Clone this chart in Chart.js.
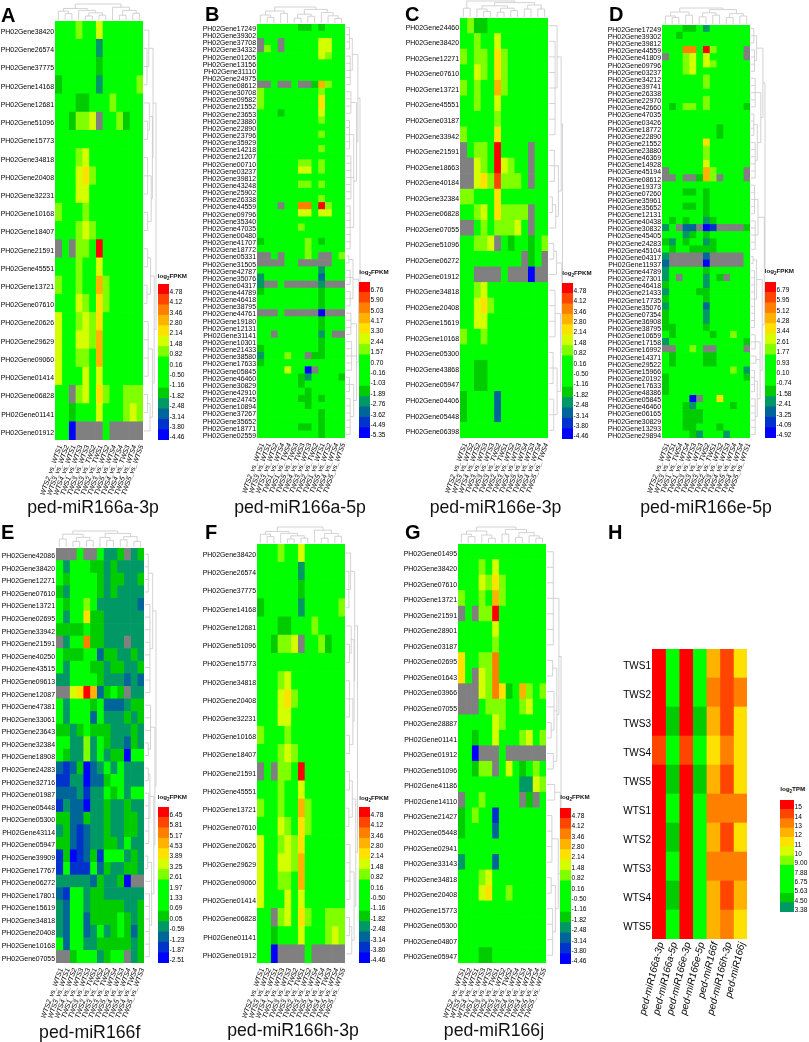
<!DOCTYPE html>
<html>
<head>
<meta charset="utf-8">
<title>ped-miR166 heatmaps</title>
<script src="https://cdn.jsdelivr.net/npm/chart.js@4"></script>
<style>
  html, body { margin: 0; background: #fff; }
  #page { position: relative; width: 809px; height: 1042px; overflow: hidden; font-family: "Liberation Sans", Arial, sans-serif; color: #111; }
  #page canvas { position: absolute; }
  .letter { position: absolute; font-weight: bold; font-size: 20px; line-height: 20px; color: #000; }
  .title { position: absolute; font-size: 17.7px; line-height: 20px; transform: translateX(-50%); white-space: nowrap; }
  .barhead { position: absolute; font-weight: bold; font-size: 6.2px; line-height: 8px; white-space: nowrap; }
  .barhead sub { font-size: 4.5px; line-height: 0; }
</style>
</head>
<body>
<div id="page"></div>
<script>
// gray cells have no value
const G = null;

const genesA = ['38420','26574','37775','14168','12681','51096','15773','34818','20408','32231','10168','18407','21591','45551','13721','07610','20626','29629','09060','01414','06828','01141','01912'];
const genesB = ['17249','39302','37708','34332','01205','13156','31110','24975','08612','30708','09582','21552','23653','23880','22890','23796','35929','14218','21207','00710','03237','39812','43248','25902','26338','44559','09796','35340','47035','00480','41707','18772','05331','31505','42787','35076','04317','44789','46418','38795','44761','19180','12131','31141','10301','21433','38580','17633','05845','46460','30829','42910','24745','10894','37267','35652','18771','02559'];
const genesC = ['24460','38420','12271','07610','13721','45551','03187','33942','21591','18663','40184','32384','06828','07055','51096','06272','01912','34818','20408','15619','10168','05300','43868','05947','04406','05448','06398'];
const genesD = ['17249','39302','39812','44559','41809','09796','03237','34212','39741','26338','22970','42660','47035','03426','18772','22890','21552','23880','46369','14928','45194','08612','19373','07260','35961','35652','12131','40438','30832','45405','24283','45104','04317','11937','44789','27301','46418','21433','17735','35076','07354','36908','38795','10659','17158','16992','14371','29522','15966','20192','17633','48386','05845','46460','06165','30829','13293','29894'];
const genesE = ['42086','38420','12271','07610','13721','02695','33942','21591','40250','43515','09613','12087','47381','33061','23643','32384','18908','24283','32716','01987','05448','05300','43114','05947','39909','17767','06272','17801','15619','34818','20408','10168','07055'];
const genesF = genesA;
const genesG = ['01495','38420','07610','13721','21591','28901','03187','02695','01643','03966','07055','28887','01141','01912','51096','41186','14110','21427','05448','02941','33143','34818','20408','15773','05300','04807','05947'];
const samplesH = ['TWS1','TWS2','TWS3','TWS4','TWS5','WTS1','WTS2','WTS3','WTS4','WTS5'];

const colsA = ['WTS2_vs_WTS1','WTS3_vs_WTS2','WTS4_vs_WTS1','TWS1_vs_WTS3','TWS3_vs_WTS3','TWS3_vs_TWS2','TWS2_vs_TWS1','TWS3_vs_WTS2','TWS5_vs_WTS4','TWS4_vs_WTS4','TWS4_vs_TWS3','TWS5_vs_WTS4','TWS5_vs_WTS5'];
const colsB = ['WTS2_vs_WTS1','WTS3_vs_WTS1','WTS3_vs_WTS2','TWS1_vs_WTS4','TWS1_vs_TWS4','TWS5_vs_TWS3','TWS4_vs_TWS3','TWS3_vs_WTS3','TWS2_vs_TWS2','TWS1_vs_WTS1','TWS5_vs_WTS2','TWS4_vs_WTS4','TWS5_vs_WTS5'];
const colsC = ['WTS2_vs_WTS1','WTS3_vs_WTS2','WTS4_vs_WTS2','TWS3_vs_WTS3','TWS3_vs_WTS3','TWS3_vs_TWS2','TWS2_vs_TWS1','TWS3_vs_WTS2','TWS4_vs_WTS3','TWS5_vs_WTS4','TWS5_vs_WTS3','TWS4_vs_WTS4','TWS5_vs_TWS4'];
const colsD = ['WTS2_vs_WTS1','WTS3_vs_WTS1','TWS1_vs_TWS4','TWS1_vs_WTS4','TWS3_vs_WTS3','TWS3_vs_WTS3','TWS3_vs_TWS2','TWS2_vs_TWS1','TWS3_vs_WTS2','TWS4_vs_WTS3','TWS5_vs_WTS4','TWS4_vs_WTS4','TWS5_vs_WTS1'];
const colsE = ['WTS2_vs_WTS1','WTS3_vs_WTS1','WTS4_vs_WTS2','TWS1_vs_WTS3','TWS3_vs_WTS3','TWS2_vs_TWS1','TWS3_vs_TWS2','TWS3_vs_TWS2','TWS5_vs_WTS4','TWS4_vs_WTS3','TWS5_vs_WTS4','TWS4_vs_TWS4','TWS5_vs_WTS3'];
const colsF = colsA;
const colsG = ['WTS2_vs_WTS1','WTS3_vs_WTS2','WTS4_vs_WTS1','TWS1_vs_WTS3','TWS3_vs_WTS3','TWS2_vs_TWS1','TWS3_vs_WTS2','TWS3_vs_TWS2','TWS4_vs_WTS4','TWS5_vs_WTS3','TWS4_vs_WTS4','TWS5_vs_WTS4','TWS5_vs_WTS5'];
const colsH = ['ped-miR166a-3p','ped-miR166a-5p','ped-miR166e-3p','ped-miR166e-5p','ped-miR166f','ped-miR166h-3p','ped-miR166j'];

// cell values as colour-bar steps: 0 = the green band, + towards red, - towards blue
const rowsA = [
[0,0,0,1,0,0,2,0,0,0,0,0,0],
[0,0,0,0,0,0,-2,0,0,0,0,0,0],
[0,0,0,0,0,0,-1,0,0,0,0,0,0],
[-1,0,0,0,0,0,-2,0,0,0,0,0,1],
[0,0,0,-1,-1,0,0,0,1,0,0,0,0],
[0,0,-1,1,1,2,G,0,0,1,-1,0,0],
[0,0,0,0,0,0,0,0,0,0,0,0,0],
[0,0,0,1,2,0,0,0,0,0,0,0,0],
[0,0,0,2,3,1,0,0,0,0,0,0,0],
[0,0,0,2,2,0,0,0,0,0,0,0,0],
[1,0,0,0,1,0,0,0,0,0,0,0,0],
[0,0,0,1,2,1,0,0,0,0,0,0,0],
[G,0,G,1,1,0,7,0,0,0,0,0,0],
[0,0,0,1,0,0,2,0,0,0,0,0,0],
[1,0,0,1,0,0,4,1,0,0,0,0,0],
[0,0,0,2,1,0,3,1,0,0,0,0,0],
[2,0,0,1,2,1,3,0,0,0,0,0,0],
[2,0,0,2,2,1,4,0,0,0,0,0,0],
[2,0,0,1,1,0,4,0,0,0,0,0,0],
[2,0,0,0,2,0,2,0,0,0,0,0,0],
[0,0,G,1,2,0,3,1,0,0,1,1,1],
[0,0,-1,0,0,0,2,0,0,0,1,2,1],
[0,0,-5,G,G,G,G,0,G,G,G,G,G]
];
const rowsB = [
[0,0,0,0,0,0,-1,-1,0,-1,0,0,0],
[0,0,0,0,0,0,0,0,0,0,0,0,0],
[G,0,0,G,0,0,0,0,0,2,2,0,0],
[G,1,0,G,0,0,0,0,0,2,2,0,0],
[0,0,0,0,0,0,0,0,0,2,1,0,0],
[0,0,0,0,0,0,0,0,0,0,0,0,0],
[0,0,0,0,0,0,0,0,0,0,0,0,0],
[0,0,0,0,0,0,0,0,0,0,0,0,0],
[G,G,0,G,G,0,G,G,-1,4,1,0,0],
[1,0,0,0,0,0,0,0,0,1,0,0,0],
[1,0,0,0,0,0,0,0,0,3,0,0,0],
[1,0,0,0,0,0,0,0,0,3,0,0,0],
[0,0,0,-1,0,0,0,0,0,2,0,0,0],
[0,0,0,0,0,0,0,0,0,1,0,0,0],
[0,0,0,0,0,0,0,0,0,0,0,0,0],
[0,0,0,0,0,0,0,0,0,1,0,0,0],
[0,0,0,0,0,0,0,0,0,0,0,0,0],
[0,0,0,0,0,0,0,0,0,1,0,0,0],
[0,0,0,0,0,0,0,0,0,0,0,0,0],
[0,0,0,0,0,0,1,1,0,1,0,0,0],
[0,0,0,0,0,0,2,2,0,1,0,0,0],
[0,0,0,0,0,0,0,0,0,0,0,0,0],
[0,0,0,0,0,0,1,1,0,1,0,0,0],
[0,0,0,0,0,0,0,0,0,0,0,0,0],
[0,0,0,0,0,0,0,0,0,1,0,0,0],
[0,0,0,G,0,0,5,5,0,7,1,0,0],
[0,0,0,0,0,0,2,2,0,2,2,0,0],
[0,0,0,0,0,0,0,0,0,0,0,0,0],
[0,0,0,0,0,0,1,0,0,0,0,0,0],
[0,0,0,0,0,0,0,0,0,0,0,0,0],
[-1,0,0,0,0,0,0,1,0,-1,0,0,0],
[0,0,0,0,0,0,0,1,0,0,0,0,0],
[G,G,0,G,0,0,0,1,0,G,G,0,1],
[G,G,G,G,0,0,G,G,G,G,G,0,0],
[0,0,0,0,0,0,0,0,0,-2,0,0,0],
[-2,0,0,0,0,0,0,0,0,-3,0,0,0],
[-2,G,G,0,G,G,G,G,G,-2,G,G,G],
[-1,0,0,0,0,0,0,0,0,-1,0,0,0],
[0,0,0,0,0,0,0,0,0,-1,0,0,0],
[0,0,0,0,0,0,0,0,0,-1,0,0,0],
[G,G,G,0,G,G,G,G,G,-5,G,G,G],
[0,0,0,0,0,0,0,0,0,-1,0,0,0],
[0,0,0,0,0,0,0,0,0,-1,0,0,0],
[0,0,G,0,0,0,0,0,0,-2,0,G,G],
[0,0,0,0,0,0,0,0,0,-1,0,0,0],
[-1,0,0,0,0,0,0,0,0,-1,0,0,0],
[-2,0,0,0,1,0,0,G,-1,-1,0,0,0],
[-1,0,0,0,0,0,0,0,0,0,0,0,0],
[0,0,0,0,2,0,0,-5,G,0,0,0,0],
[0,0,0,0,0,0,-1,-2,0,0,0,0,-1],
[0,0,0,0,0,0,-1,0,0,0,0,0,0],
[0,0,0,0,0,0,0,-1,0,0,0,0,0],
[0,0,0,0,0,0,-1,-1,0,-1,0,0,0],
[0,0,0,0,0,0,0,-1,0,0,0,0,0],
[0,0,0,0,0,0,0,0,0,-1,0,0,0],
[0,0,0,0,0,0,0,0,0,-1,0,0,0],
[0,0,0,0,0,0,-1,-1,0,-1,0,0,0],
[0,0,0,0,0,0,0,0,0,-1,0,0,0]
];
const rowsC = [
[0,1,-1,-1,0,0,0,0,0,0,0,0,0],
[0,0,1,0,0,2,0,0,0,0,0,0,0],
[1,0,1,1,0,3,1,0,0,0,0,0,0],
[0,0,2,1,0,3,1,0,0,0,0,0,0],
[1,0,1,0,0,4,1,0,0,0,0,0,0],
[0,0,1,0,0,2,0,0,0,0,0,0,0],
[0,0,0,0,0,1,0,0,0,0,0,0,0],
[1,0,0,0,0,3,0,0,0,0,0,0,0],
[G,0,1,1,0,7,0,0,0,0,G,0,0],
[G,G,2,1,0,7,2,1,0,0,G,0,0],
[G,G,2,3,1,6,1,1,1,0,G,0,0],
[1,1,0,0,0,3,0,0,0,0,0,0,0],
[0,0,1,2,0,3,1,1,1,1,G,0,0],
[G,G,0,1,0,1,1,1,2,0,G,0,0],
[0,0,1,1,2,G,0,-1,0,0,-1,0,1],
[0,0,0,0,0,0,0,0,0,G,-1,0,G],
[0,0,G,G,G,G,0,G,G,G,-5,G,G],
[0,0,1,2,0,0,0,0,0,0,0,0,0],
[0,0,2,3,1,0,0,0,0,0,0,0,0],
[0,0,2,2,0,0,0,0,0,0,0,0,0],
[1,0,0,1,0,0,0,0,0,0,0,0,0],
[0,0,0,0,0,0,0,0,0,0,0,0,0],
[0,0,-1,-1,0,0,0,0,0,0,0,0,0],
[0,0,-1,-1,0,0,0,0,0,0,0,0,0],
[-1,0,0,0,0,-3,0,0,0,0,0,0,0],
[-1,0,0,0,0,-3,0,0,0,0,0,0,0],
[0,0,0,0,0,0,0,0,0,0,0,0,0]
];
const rowsD = [
[0,0,0,-1,-1,0,-2,0,0,0,0,0,0],
[0,0,-1,0,0,0,0,0,0,0,0,0,0],
[0,0,0,0,0,0,0,0,0,0,0,0,0],
[0,0,0,5,5,0,7,1,0,0,0,0,G],
[G,0,0,1,2,0,2,0,0,0,0,0,G],
[0,0,0,1,2,0,2,1,0,0,0,0,0],
[0,0,0,1,2,0,0,0,0,0,0,0,0],
[0,0,0,0,0,0,1,0,0,0,0,0,0],
[0,0,0,0,0,0,1,0,0,0,0,0,0],
[0,0,0,0,0,0,0,0,0,0,0,0,0],
[0,0,0,0,0,0,1,0,0,0,0,0,0],
[0,-1,0,1,1,0,1,0,0,0,0,0,-1],
[0,0,0,0,0,0,0,0,0,0,0,0,0],
[0,0,0,0,0,0,0,0,0,0,0,0,0],
[0,0,0,0,0,0,0,0,-1,0,0,0,0],
[0,0,0,0,0,0,0,0,-1,0,0,0,0],
[0,0,0,0,0,0,3,0,0,0,0,0,0],
[0,0,0,0,0,0,1,0,0,0,0,0,0],
[0,0,0,0,0,0,1,0,0,0,0,0,0],
[0,0,0,0,0,0,2,0,0,0,0,0,0],
[G,0,0,0,0,0,4,1,0,0,0,0,G],
[G,G,0,G,G,-1,4,1,G,0,0,0,G],
[0,0,0,0,0,0,0,0,0,0,0,0,0],
[0,0,0,-1,-1,0,-1,0,0,0,0,0,0],
[0,0,0,0,0,0,-1,0,0,0,0,0,0],
[0,0,0,-1,-1,0,-1,0,0,0,0,0,0],
[0,0,0,0,0,0,-1,0,0,0,0,0,0],
[0,-1,0,-1,0,0,-2,-1,0,0,0,0,0],
[-2,0,G,-3,-3,G,-5,-4,G,G,G,G,-1],
[0,0,0,-2,-1,0,-1,0,0,0,0,0,0],
[-1,-2,0,-1,0,0,-2,-1,0,0,0,0,0],
[0,-1,0,0,-1,-1,-1,-1,0,0,0,0,0],
[-2,G,G,G,G,G,-3,G,G,G,G,G,0],
[-3,G,G,G,G,G,-5,G,G,G,G,G,0],
[-2,0,0,0,0,0,-1,0,0,0,0,0,0],
[-2,0,G,0,0,0,-2,0,-1,G,0,0,0],
[-1,0,0,0,0,0,-2,0,0,0,0,0,0],
[-2,0,0,0,0,-1,-1,0,0,0,0,0,0],
[-1,0,0,0,0,0,-1,0,0,0,0,0,0],
[-2,0,0,0,0,0,-3,0,0,0,0,0,0],
[-1,0,0,0,0,0,-2,0,0,0,0,0,0],
[-1,0,0,0,0,0,-2,0,0,0,0,0,0],
[-1,-1,0,0,0,0,-1,0,0,0,0,0,0],
[0,-1,0,0,0,0,0,-1,0,0,1,0,0],
[-2,0,0,0,0,0,0,0,0,0,0,0,-1],
[G,G,0,0,1,0,G,G,0,0,0,0,G],
[0,-1,0,0,0,0,-1,-1,0,0,0,0,0],
[0,-1,0,0,0,0,-1,-1,0,0,0,0,0],
[0,0,0,0,0,0,0,0,0,0,1,0,-2],
[-1,0,0,0,0,0,0,0,0,0,0,0,-1],
[-1,0,0,0,0,0,0,0,0,0,0,0,0],
[-1,0,0,0,0,0,0,0,0,0,0,0,0],
[0,0,0,0,-5,G,0,0,3,0,0,0,0],
[0,0,0,-1,-2,0,0,0,0,0,-1,0,0],
[0,0,0,-1,-1,-1,0,0,0,0,0,0,0],
[0,0,0,-1,-1,-1,0,0,0,0,0,0,0],
[0,0,0,-1,-1,0,0,0,-1,0,0,0,0],
[0,0,0,0,-1,-2,0,0,0,-2,0,0,0]
];
const rowsE = [
[G,G,G,0,G,G,0,-2,-2,-1,G,-2,-1],
[0,-2,0,0,0,-1,-1,-2,-1,-2,-2,-2,-2],
[0,-1,0,0,0,0,-1,-2,-1,-1,-2,-2,-1],
[-1,-2,0,0,0,0,-1,-2,-1,-2,-2,-2,-2],
[0,-1,0,0,1,0,-2,-2,-2,-2,-2,-2,-3],
[0,-2,0,0,3,-1,-1,-2,-2,-2,-2,-2,-2],
[-1,-1,-1,-1,0,-1,-1,-2,-2,-2,-2,-2,-2],
[G,-2,0,0,5,-1,-1,-2,-2,-2,G,-2,-2],
[0,-1,-1,-1,0,0,-3,-1,-1,-2,-2,-1,-2],
[0,-2,0,0,0,-1,-1,-2,-1,-1,-2,-2,-1],
[-2,-2,0,0,0,0,-1,-2,-2,-2,-3,-2,-3],
[G,G,2,3,7,4,-3,-1,0,-1,G,-2,-2],
[0,-2,0,0,0,-1,0,-3,-3,-3,-2,-1,-1],
[0,-2,0,0,0,-3,0,-2,-2,-2,-1,-2,-1],
[-1,-1,-2,-1,0,-1,-1,-1,-2,-2,-2,-1,-2],
[0,0,-2,-2,1,-2,0,-1,-2,-2,-3,-1,-2],
[0,-1,-2,-2,1,-2,0,-2,-1,-1,-5,0,0],
[-3,-4,-3,-1,-5,-3,-2,0,-2,0,-2,-2,-2],
[-4,-4,-2,-2,-5,-3,-3,-1,0,0,-2,-2,-2],
[-3,-3,-3,-2,-4,-2,-2,0,-1,0,-2,0,0],
[-4,-2,-3,-3,-5,-2,-2,-1,-2,-2,-1,-2,-2],
[-1,-1,-3,-3,-1,-2,-2,-1,-2,-2,-1,-1,-2],
[-2,-1,-3,-4,-3,-2,-2,-1,-2,-2,-1,-1,-2],
[-1,-1,-3,-4,-3,-2,-2,-1,-1,-2,0,-2,-2],
[-4,-1,-5,-4,-3,-1,-4,0,0,0,-2,-1,-2],
[-4,0,-4,-4,-4,0,-3,-1,-2,-2,-1,-1,-2],
[-2,-2,-2,-2,-2,-3,-1,-2,-2,-1,-5,G,G],
[-3,-4,0,0,-2,-1,-1,-2,-2,-2,-2,-2,-2],
[-2,-3,0,0,-2,-1,-1,-1,-1,-1,-2,-2,-1],
[-2,-3,0,0,-3,-1,-1,-1,-1,0,-1,-2,-1],
[-2,-3,0,0,-3,-2,0,-2,-1,0,-1,-3,-1],
[0,-3,0,0,-2,-2,-1,-1,-1,-1,-1,-2,-1],
[G,G,-1,0,0,0,-2,-1,0,0,G,-2,-1]
];
const rowsF = rowsA;
const rowsG = [
[0,0,0,0,0,0,0,0,0,0,0,0,0],
[0,0,0,1,0,2,0,0,0,0,0,0,0],
[0,0,0,2,1,3,1,0,0,0,0,0,0],
[1,0,0,1,0,4,1,0,0,0,0,0,0],
[G,0,G,1,1,7,0,0,0,0,0,0,0],
[0,0,0,0,0,2,0,0,0,0,0,0,0],
[0,0,0,0,0,1,0,0,0,0,0,0,0],
[3,0,0,1,1,5,0,0,0,0,0,0,0],
[3,0,G,2,1,5,0,0,0,0,0,0,0],
[G,G,G,2,1,5,3,-1,0,4,1,0,1],
[G,G,G,0,1,1,1,0,0,1,2,0,0],
[0,0,0,0,0,2,1,0,0,0,0,0,0],
[0,0,-1,0,0,2,0,0,0,1,2,0,1],
[0,0,-5,G,G,G,0,G,G,G,G,G,G],
[0,0,-1,1,1,G,0,2,0,-1,0,1,0],
[0,0,0,0,0,0,0,0,0,-2,-2,2,1],
[G,0,0,1,0,0,0,0,0,G,-1,G,0],
[-1,0,1,0,0,-4,0,0,0,0,0,0,0],
[-1,0,0,0,0,-3,0,0,0,0,0,0,0],
[0,0,0,0,0,0,0,0,0,0,0,0,0],
[-2,0,0,0,0,-3,0,0,0,0,0,0,0],
[0,0,0,1,2,0,0,0,0,0,0,0,0],
[0,0,0,2,3,0,0,1,0,0,0,0,0],
[0,0,0,0,0,0,0,0,0,0,0,0,0],
[0,0,0,0,0,0,0,0,0,0,0,0,0],
[0,0,0,0,0,0,0,0,0,0,0,0,0],
[0,0,0,-1,-1,0,0,0,0,0,0,0,0]
];
const rowsH = [
[7,0,7,0,4,6,3],
[7,0,7,0,5,6,5],
[7,-1,7,-1,4,6,3],
[6,0,6,0,3,5,3],
[7,-1,7,-1,4,6,3],
[7,0,7,0,5,5,5],
[7,-1,7,0,4,6,3],
[7,0,7,0,5,5,5],
[7,-1,7,0,4,6,4],
[7,0,7,0,4,5,3]
];

// colour-bar tick labels, top to bottom
const ticksA = ['4.78','4.12','3.46','2.80','2.14','1.48','0.82','0.16','-0.50','-1.16','-1.82','-2.48','-3.14','-3.80','-4.46'];
const ticksB = ['6.76','5.90','5.03','4.17','3.30','2.44','1.57','0.70','-0.16','-1.03','-1.89','-2.76','-3.62','-4.49','-5.35'];
const ticksD = ['6.79','5.95','5.12','4.28','3.44','2.61','1.77','0.93','0.10','-0.74','-1.58','-2.41','-3.25','-4.09','-4.92'];
const ticksE = ['6.45','5.81','5.17','4.53','3.89','3.25','2.61','1.97','1.33','0.69','0.05','-0.59','-1.23','-1.87','-2.51'];
const ticksH = ['15','14','13','12','11','10','9.00','7.88','6.75','5.63','4.50','3.38'];
const barSteps = [7,6,5,4,3,2,1,0,0,0,-1,-2,-3,-4,-5];

// dendrograms: [height, child, child...], a plain number is a column or row index
const colTreeA = [1,[.72,[.55,0,[.4,1,2]],[.6,3,[.45,[.25,4,5],[.3,6,7]]]],[.8,8,[.6,[.3,9,10],[.42,11,12]]]];
const colTreeB = [1,[.75,[.5,0,[.35,1,2]],[.6,3,4]],[.85,[.55,[.3,5,6],[.42,7,8]],[.65,9,[.45,10,[.28,11,12]]]]];
const colTreeC = [1,[.55,0,1],[.9,[.7,[.5,2,[.35,3,4]],[.55,[.3,5,6],[.4,7,8]]],[.75,[.5,9,10],[.5,11,12]]]];
const colTreeD = [1,[.75,[.5,0,[.4,1,2]],[.55,3,4]],[.9,[.7,[.45,5,6],[.55,7,8]],[.65,[.4,9,10],[.5,11,12]]]];
const colTreeE = [1,[.8,[.5,0,1],[.6,[.35,2,3],[.4,4,5]]],[.85,[.6,6,[.4,7,8]],[.65,[.45,9,10],[.35,11,12]]]];
const colTreeG = [1,[.75,[.55,0,[.4,1,2]],[.5,3,[.3,4,5]]],[.85,[.55,6,7],[.65,[.35,8,9],[.45,10,[.3,11,12]]]]];
const rowTreeA = [1,[.75,[.4,0,[.25,1,2,3]],[.7,[.45,4,[.3,5,6]],[.6,[.3,7,8,9],[.3,10,11]]]],[.85,[.55,[.3,12,13],[.25,14,15]],[.7,[.35,16,17,18,19],[.5,[.3,20,21],22]]]];
const rowTreeB = [1,[.85,[.45,[.25,0,1,2,3],[.3,4,5,6,7,8]],[.75,[.35,9,10,11,12],[.55,[.25,13,14,15,16,17],[.35,18,19,20,21,22,23,24],[.3,25,26,27,28,29,30,31]]]],[.9,[.5,[.2,32,33],[.3,34,35,36],[.3,37,38,39]],[.75,[.35,40,41,42,43],[.4,44,45,46,47,48],[.55,[.25,49,50,51],[.3,52,53,54,55,56,57]]]]];
const rowTreeC = [1,[.9,[.6,0,[.45,1,2,3,4,5,6,7]],[.7,[.4,8,9,10],[.5,[.25,11,12],13]]],[.95,[.55,[.35,14,15],16],[.85,[.45,17,18,19,20],[.6,[.3,21,22,23],[.35,24,25,26]]]]];
const rowTreeD = [1,[.85,[.4,[.2,0,1,2],[.25,3,4,5,6]],[.7,[.3,7,8,9,10,11],[.45,[.2,12,13,14,15],[.3,16,17,18,19,20,21]]]],[.95,[.5,[.25,22,23,24,25,26],[.3,27,28,29,30,31]],[.8,[.4,[.15,32,33],[.25,34,35,36,37,38,39,40,41,42]],[.65,[.3,43,44,45],[.35,46,47],[.45,[.25,48,49,50,51],[.3,52,53,54,55,56,57]]]]]];
const rowTreeE = [1,[.7,[.3,0,1,2,3],[.45,4,5,6,7,8,9,10,11]],[.9,[.5,12,13,14,[.3,15,16]],[.8,[.45,[.3,17,18],[.35,19,20,21,22,23]],[.6,[.25,24,25],26,[.4,27,28,29,30,31,32]]]]];
const rowTreeG = [1,[.85,[.45,0,1,2,3,4,5,6],[.7,[.4,7,8],[.5,9,10,[.3,11,12]],[.45,13,14]]],[.95,[.55,15,16],[.8,[.35,17,18,19,20],[.6,[.3,21,22],[.4,23,24,25,26]]]]];

const stepColors = {'7':'#ff0000','6':'#ff4500','5':'#ff7f00','4':'#ffb200','3':'#ffe100','2':'#d4ff00','1':'#80ff00','0':'#00ff00','-1':'#00cc00','-2':'#009966','-3':'#006699','-4':'#0033cc','-5':'#0000ff'};
const FONT = '"Liberation Sans", Arial, sans-serif';
const page = document.getElementById('page');
Chart.defaults.color = '#000';
Chart.defaults.font.family = FONT;
Chart.defaults.animation = false;

const cellColor = v => v === null ? '#808080' : stepColors[v];

function addText(cls, text, x, y) {
  const d = document.createElement('div');
  d.className = cls;
  d.style.left = x + 'px';
  d.style.top = y + 'px';
  d.innerHTML = text;
  page.appendChild(d);
}

function addCanvas(x, y, w, h) {
  const c = document.createElement('canvas');
  c.width = w;
  c.height = h;
  c.style.left = x + 'px';
  c.style.top = y + 'px';
  page.appendChild(c);
  return c;
}

// draws a tree above the columns or right of the rows
function treePlugin(colTree, rowTree, colSpan, rowSpan) {
  function walk(chart, node, leaf, line) {
    if (typeof node === 'number') return { c: leaf(node), h: 0 };
    const [h, ...kids] = node;
    const ps = kids.map(k => walk(chart, k, leaf, line));
    line(ps[0].c, h, ps[ps.length - 1].c, h);
    ps.forEach(p => line(p.c, p.h, p.c, h));
    return { c: (ps[0].c + ps[ps.length - 1].c) / 2, h };
  }
  return {
    id: 'tree',
    afterDraw(chart) {
      const { ctx, chartArea: a, scales } = chart;
      ctx.save();
      ctx.strokeStyle = '#c8c8c8';
      ctx.lineWidth = 0.8;
      ctx.beginPath();
      if (colTree) walk(chart, colTree, i => scales.x.getPixelForValue(i + 0.5), (c1, h1, c2, h2) => {
        ctx.moveTo(c1, a.top - 1 - h1 * colSpan);
        ctx.lineTo(c2, a.top - 1 - h2 * colSpan);
      });
      if (rowTree) walk(chart, rowTree, i => scales.y.getPixelForValue(i), (c1, h1, c2, h2) => {
        ctx.moveTo(a.right + 1 + h1 * rowSpan, c1);
        ctx.lineTo(a.right + 1 + h2 * rowSpan, c2);
      });
      ctx.stroke();
      ctx.restore();
    }
  };
}

function heatmap(p) {
  const plotW = p.right - p.left, plotH = p.bottom - p.top;
  const leftW = Math.ceil(p.left), topH = 22, rightW = 18, bottomH = 1042 - Math.ceil(p.bottom);
  const canvas = addCanvas(p.left - leftW, p.top - topH, leftW + plotW + rightW, topH + plotH + bottomH);
  const colW = plotW / p.cols.length;
  new Chart(canvas, {
    type: 'bar',
    data: {
      labels: p.rows,
      datasets: p.cols.map((name, j) => ({
        label: name,
        data: p.values.map(() => 1),
        backgroundColor: p.values.map(r => cellColor(r[j])),
        barPercentage: 1,
        categoryPercentage: 1,
        borderWidth: 0
      }))
    },
    options: {
      indexAxis: 'y',
      responsive: false,
      events: [],
      layout: { padding: { top: topH, right: rightW, left: 0, bottom: 0 } },
      plugins: { legend: { display: false }, tooltip: { enabled: false } },
      scales: {
        x: {
          stacked: true, min: 0, max: p.cols.length,
          border: { display: false }, grid: { display: false, drawTicks: false },
          ticks: {
            stepSize: 1, autoSkip: false, padding: p.colPad, minRotation: p.rot, maxRotation: p.rot,
            labelOffset: colW / 2 + p.colShift,
            font: { size: p.colFont, style: 'italic', family: FONT },
            callback: v => p.cols[v] || ''
          },
          afterFit: s => { s.height = bottomH; s.paddingLeft = 0; s.paddingRight = 0; }
        },
        y: {
          stacked: true,
          border: { display: false }, grid: { display: false, drawTicks: false },
          ticks: { autoSkip: false, padding: 1, labelOffset: p.rowShift, font: { size: p.rowFont, family: FONT } },
          afterFit: s => { s.width = leftW; s.paddingTop = 0; s.paddingBottom = 0; }
        }
      }
    },
    plugins: [treePlugin(p.colTree, p.rowTree, p.colSpan, p.rowSpan)]
  });
}

function colorBar(b) {
  const w = b.right - b.left, h = b.bottom - b.top;
  const canvas = addCanvas(b.left, b.top, w + 26, h + 4);
  new Chart(canvas, {
    type: 'bar',
    data: {
      labels: b.ticks,
      datasets: [{
        data: b.ticks.map(() => 1),
        backgroundColor: b.ticks.map((t, i) => stepColors[barSteps[i]]),
        barPercentage: 1,
        categoryPercentage: 1,
        borderWidth: 0
      }]
    },
    options: {
      indexAxis: 'y',
      responsive: false,
      events: [],
      layout: { padding: { top: 0, bottom: 4, left: 0, right: 0 } },
      plugins: { legend: { display: false }, tooltip: { enabled: false } },
      scales: {
        x: { display: false, min: 0, max: 1 },
        y: {
          position: 'right',
          border: { display: false }, grid: { display: false, drawTicks: false },
          ticks: { autoSkip: false, padding: 0.5, labelOffset: 2.7, font: { size: 6.6, family: FONT } },
          afterFit: s => { s.width = 26; s.paddingTop = 0; s.paddingBottom = 0; }
        }
      }
    }
  });
  addText('barhead', 'log<sub>2</sub>' + b.unit, b.left, b.headY - 4);
}

const withPrefix = ids => ids.map(id => 'PH02Gene' + id);
const small = { rowFont: 6.9, colFont: 6.9, rot: 70, colPad: 4, colShift: 2, rowShift: 2, colSpan: 16, rowSpan: 12 };

heatmap({ ...small, rows: withPrefix(genesA), cols: colsA, values: rowsA, left: 55, right: 143.7, top: 21, bottom: 440.7, colTree: colTreeA, rowTree: rowTreeA });
heatmap({ ...small, rows: withPrefix(genesB), cols: colsB, values: rowsB, left: 256.7, right: 345, top: 24.3, bottom: 438.3, rowShift: 1.5, colTree: colTreeB, rowTree: rowTreeB, rowSpan: 14 });
heatmap({ ...small, rows: withPrefix(genesC), cols: colsC, values: rowsC, left: 460, right: 548, top: 18.3, bottom: 439, colTree: colTreeC, rowTree: rowTreeC, rowSpan: 13.5 });
heatmap({ ...small, rows: withPrefix(genesD), cols: colsD, values: rowsD, left: 662, right: 750.7, top: 25, bottom: 438.3, rowShift: 1.5, colTree: colTreeD, rowTree: rowTreeD, rowSpan: 14 });
heatmap({ ...small, rows: withPrefix(genesE), cols: colsE, values: rowsE, left: 55.7, right: 143.7, top: 548.3, bottom: 964, colTree: colTreeE, rowTree: rowTreeE, rowSpan: 11 });
heatmap({ ...small, rows: withPrefix(genesF), cols: colsF, values: rowsF, left: 256.7, right: 344.7, top: 544.3, bottom: 963.3, colTree: colTreeA, rowTree: rowTreeA, rowSpan: 11.5 });
heatmap({ ...small, rows: withPrefix(genesG), cols: colsG, values: rowsG, left: 457.7, right: 545.7, top: 544, bottom: 963.7, colTree: colTreeG, rowTree: rowTreeG, rowSpan: 14 });
heatmap({ rows: samplesH, cols: colsH, values: rowsH, left: 652.3, right: 748, top: 648.7, bottom: 939, rowFont: 10, colFont: 10, rot: 76, colPad: 2, colShift: 2, rowShift: 3 });

colorBar({ ticks: ticksA, unit: 'FPKM', left: 157.7, right: 169.3, top: 284.3, bottom: 440.7, headY: 275.7 });
colorBar({ ticks: ticksB, unit: 'FPKM', left: 359.3, right: 370.3, top: 281.7, bottom: 438.3, headY: 272 });
colorBar({ ticks: ticksA, unit: 'FPKM', left: 562.3, right: 573.7, top: 282.7, bottom: 439.3, headY: 272.7 });
colorBar({ ticks: ticksD, unit: 'FPKM', left: 764.7, right: 775.7, top: 282, bottom: 438.3, headY: 271.3 });
colorBar({ ticks: ticksE, unit: 'FPKM', left: 157.7, right: 169, top: 807.3, bottom: 964, headY: 797.3 });
colorBar({ ticks: ticksA, unit: 'FPKM', left: 359.3, right: 370.7, top: 807.3, bottom: 964, headY: 797.7 });
colorBar({ ticks: ticksA, unit: 'FPKM', left: 560.3, right: 571.7, top: 807.7, bottom: 964, headY: 797.3 });
colorBar({ ticks: ticksH, unit: 'TPM', left: 780.3, right: 794.3, top: 800, bottom: 912.3, headY: 788.7 });

addText('letter', 'A', 1, 5);
addText('letter', 'B', 205, 4);
addText('letter', 'C', 405, 4);
addText('letter', 'D', 609, 4);
addText('letter', 'E', 1, 522);
addText('letter', 'F', 205, 522);
addText('letter', 'G', 405, 522);
addText('letter', 'H', 608, 522);

addText('title', 'ped-miR166a-3p', 93, 497);
addText('title', 'ped-miR166a-5p', 300, 497);
addText('title', 'ped-miR166e-3p', 495.5, 497);
addText('title', 'ped-miR166e-5p', 706, 497);
addText('title', 'ped-miR166f', 89.7, 1022);
addText('title', 'ped-miR166h-3p', 293, 1020);
addText('title', 'ped-miR166j', 494, 1020);
</script>
</body>
</html>
